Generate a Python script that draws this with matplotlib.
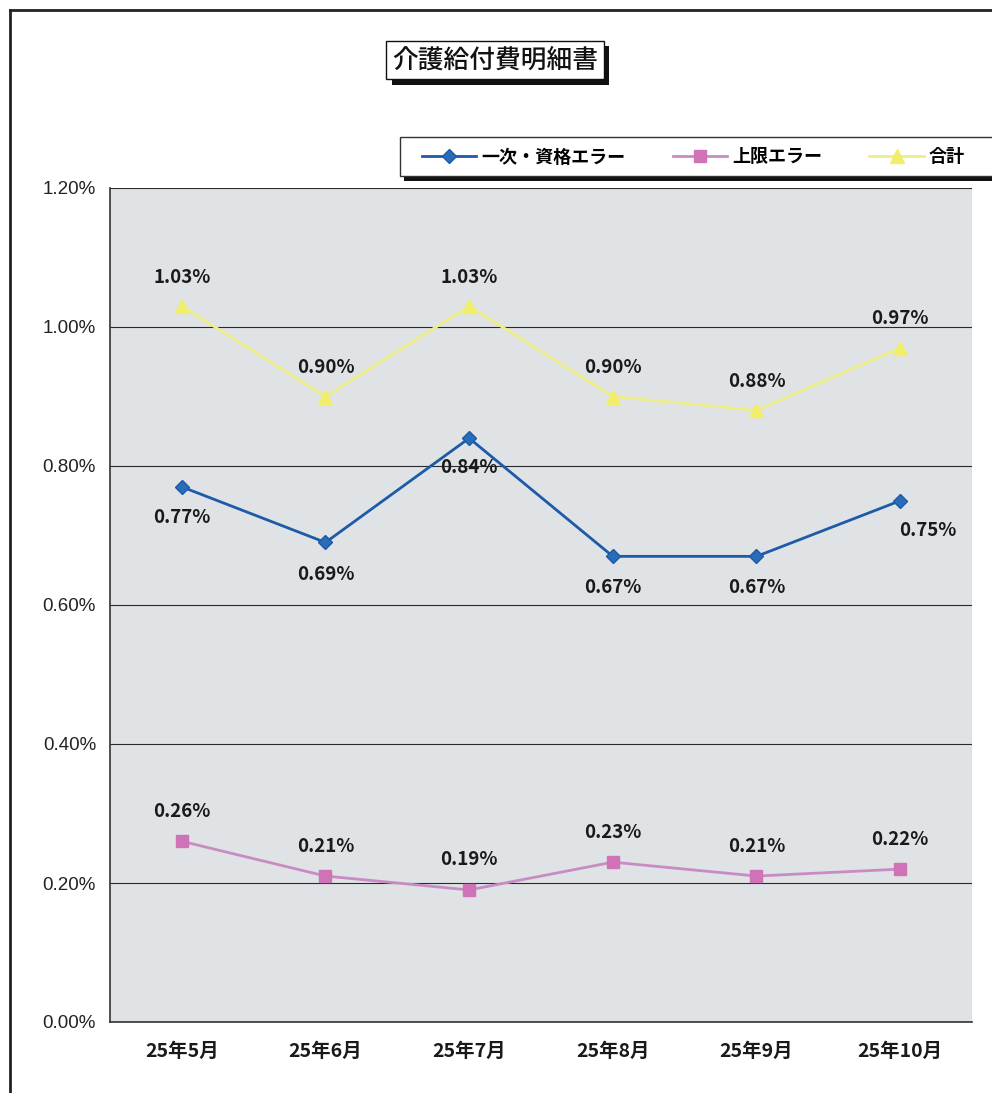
import numpy as np
import matplotlib
matplotlib.use("Agg")
import matplotlib.pyplot as plt
import matplotlib.patheffects as pe
from matplotlib.lines import Line2D
from matplotlib.patches import Rectangle
from matplotlib.ticker import FuncFormatter, MultipleLocator

# ---------------------------------------------------------------------------
# Data (percent values)
# ---------------------------------------------------------------------------
months = ["25年5月", "25年6月", "25年7月", "25年8月", "25年9月", "25年10月"]
primary_err = [0.77, 0.69, 0.84, 0.67, 0.67, 0.75]   # 一次・資格エラー
limit_err = [0.26, 0.21, 0.19, 0.23, 0.21, 0.22]     # 上限エラー
total = [1.03, 0.90, 1.03, 0.90, 0.88, 0.97]         # 合計

series_names = ["一次・資格エラー", "上限エラー", "合計"]
title = "介護給付費明細書"

# ---------------------------------------------------------------------------
# Styling
# ---------------------------------------------------------------------------
JP = ["Noto Sans CJK JP", "DejaVu Sans"]
plt.rcParams["font.family"] = JP

c_blue, c_blue_mk = "#1d5aa8", "#2a6cb5"
c_pink, c_pink_mk = "#c98bc4", "#d072b6"
c_yell, c_yell_mk = "#eeee88", "#f0ee6a"

W, H = 992, 1093
fig = plt.figure(figsize=(W / 100, H / 100), dpi=100)
fig.patch.set_facecolor("white")

# plot area in pixel coords -> figure fractions
L, R, T, B = 110, 972, 188, 1022
ax = fig.add_axes([L / W, 1 - B / H, (R - L) / W, (B - T) / H])
ax.set_facecolor("#dfe3e5")

x = np.arange(len(months))
ax.plot(x, total, color=c_yell, lw=2, marker="^", ms=10,
        mfc=c_yell_mk, mec=c_yell_mk, zorder=3, label=series_names[2])
ax.plot(x, limit_err, color=c_pink, lw=2, marker="s", ms=8,
        mfc=c_pink_mk, mec=c_pink_mk, zorder=3, label=series_names[1])
ax.plot(x, primary_err, color=c_blue, lw=2, marker="D", ms=7.5,
        mfc=c_blue_mk, mec=c_blue, zorder=4, label=series_names[0])

ax.set_xlim(-0.5, len(months) - 0.5)
ax.set_ylim(0, 1.2)
ax.yaxis.set_major_locator(MultipleLocator(0.2))
ax.yaxis.set_major_formatter(FuncFormatter(lambda v, p: f"{v:.2f}%"))
ax.set_xticks(x)
ax.set_xticklabels(months)
ax.grid(axis="y", color="#2a2a2a", lw=0.8)
ax.set_axisbelow(True)
ax.tick_params(length=0)
ax.tick_params(axis="y", pad=10)
ax.tick_params(axis="x", pad=14)
for lab in ax.get_yticklabels():
    lab.set_family(["Liberation Sans", "DejaVu Sans"])
    lab.set_fontsize(13.5)
    lab.set_color("#222222")
for lab in ax.get_xticklabels():
    lab.set_fontsize(14)
    lab.set_fontweight("bold")
    lab.set_color("#1a1a1a")
for s in ["top", "right"]:
    ax.spines[s].set_visible(False)
for s in ["left", "bottom"]:
    ax.spines[s].set_color("#333333")
    ax.spines[s].set_linewidth(1.2)
ax.axvline(len(months) - 0.5, color="#9a9a9a", lw=0.8)

# data labels
lbl_kw = dict(textcoords="offset pixels", ha="center", va="center",
              fontsize=13.5, fontweight="bold", color="#1a1a1a", zorder=5)
for i, v in enumerate(total):
    ax.annotate(f"{v:.2f}%", (x[i], v), xytext=(0, 29), **lbl_kw)
for i, v in enumerate(limit_err):
    ax.annotate(f"{v:.2f}%", (x[i], v), xytext=(0, 30), **lbl_kw)
blue_off = [(0, -31), (0, -32), (0, -29), (0, -31), (0, -31), (28, -30)]
for i, v in enumerate(primary_err):
    ax.annotate(f"{v:.2f}%", (x[i], v), xytext=blue_off[i], **lbl_kw)

# outer frame (only left / top edges are visible on the scan)
fig.add_artist(Line2D([10 / W, 10 / W], [0, 1 - 10 / H], color="#222222", lw=2))
fig.add_artist(Line2D([10 / W, 1], [1 - 10 / H, 1 - 10 / H], color="#222222", lw=2))

# title box with drop shadow
t = fig.text(495 / W, 1 - 60 / H, title, ha="center", va="center",
             fontsize=18.5, fontweight="medium", color="#111111",
             bbox=dict(boxstyle="square,pad=0.22", fc="white", ec="#111111", lw=1))
t.get_bbox_patch().set_path_effects(
    [pe.withSimplePatchShadow(offset=(4, -4), shadow_rgbFace="#111111", alpha=1)])

# legend box (runs off the right edge) with shadow
fig.add_artist(Rectangle((404 / W, 1 - 181 / H), 0.6, 40 / H, fc="#111111",
                         ec="none", transform=fig.transFigure, zorder=1))
fig.add_artist(Rectangle((400 / W, 1 - 176 / H), 0.6, 39 / H, fc="white",
                         ec="#333333", lw=1, transform=fig.transFigure, zorder=2))
handles, labels = ax.get_legend_handles_labels()
order = [2, 1, 0]
leg = fig.legend([handles[k] for k in order], [labels[k] for k in order],
                 loc="center left", bbox_to_anchor=(406 / W, 1 - 157 / H),
                 ncol=3, frameon=False, handlelength=3.0, columnspacing=2.6,
                 handletextpad=0.3, prop=dict(size=13, weight="bold"))
leg.set_zorder(3)

fig.savefig("out.png", dpi=100)
